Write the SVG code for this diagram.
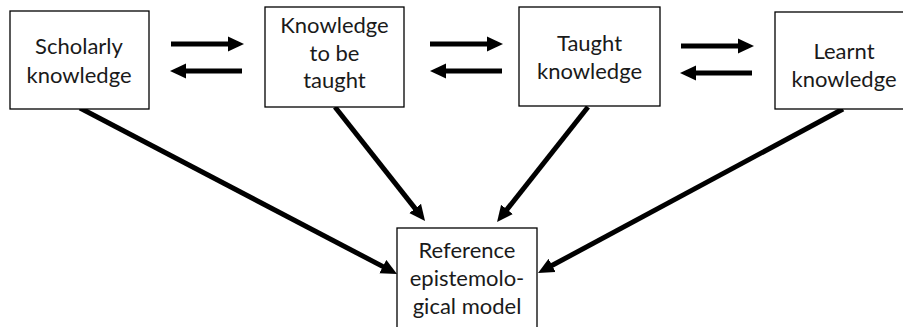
<svg xmlns="http://www.w3.org/2000/svg" width="903" height="327" viewBox="0 0 903 327">
<style>
.box{fill:#fff;stroke:#000;stroke-width:1.3}
.t{font-family:Lato,"Open Sans","Liberation Sans",sans-serif;font-size:22px;fill:#1a1a1a;text-anchor:middle}
.c{stroke:#000;stroke-width:5;fill:none;marker-end:url(#ah)}
</style>
<defs>
<marker id="ah" markerUnits="userSpaceOnUse" markerWidth="16" markerHeight="16" viewBox="0 0 16 16" refX="4" refY="8" orient="auto">
<path d="M0,0.5 L16,8 L0,15.5 Z" fill="#000"/>
</marker>
</defs>
<rect width="903" height="327" fill="#fff"/>
<g id="connectors">
<line class="c" x1="171" y1="44" x2="232" y2="44"/>
<line class="c" x1="242" y1="71" x2="182" y2="71"/>
<line class="c" x1="430" y1="44" x2="491" y2="44"/>
<line class="c" x1="502" y1="71" x2="442" y2="71"/>
<line class="c" x1="681" y1="46" x2="742" y2="46"/>
<line class="c" x1="752" y1="73" x2="692" y2="73"/>
<line class="c" x1="80" y1="108" x2="386.4" y2="268.4"/>
<line class="c" x1="335" y1="107" x2="417.6" y2="211.6"/>
<line class="c" x1="588" y1="107" x2="504.5" y2="212.6"/>
<line class="c" x1="843" y1="109" x2="548.6" y2="267.3"/>
</g>
<g id="scholarly">
<rect class="box" x="10" y="11" width="139" height="98"/>
<text class="t" x="79" y="54">Scholarly</text>
<text class="t" x="79" y="83">knowledge</text>
</g>
<g id="to-be-taught">
<rect class="box" x="265" y="7" width="139" height="100"/>
<text class="t" x="334.5" y="33">Knowledge</text>
<text class="t" x="334.5" y="61">to be</text>
<text class="t" x="334.5" y="88">taught</text>
</g>
<g id="taught">
<rect class="box" x="519" y="7" width="141" height="99"/>
<text class="t" x="589.5" y="51">Taught</text>
<text class="t" x="589.5" y="79">knowledge</text>
</g>
<g id="learnt">
<rect class="box" x="775" y="12" width="140" height="97"/>
<text class="t" x="844" y="59">Learnt</text>
<text class="t" x="844" y="87">knowledge</text>
</g>
<g id="reference">
<rect class="box" x="397" y="228" width="140" height="110"/>
<text class="t" x="467" y="258">Reference</text>
<text class="t" x="467" y="286">epistemolo-</text>
<text class="t" x="467" y="314">gical model</text>
</g>
</svg>
